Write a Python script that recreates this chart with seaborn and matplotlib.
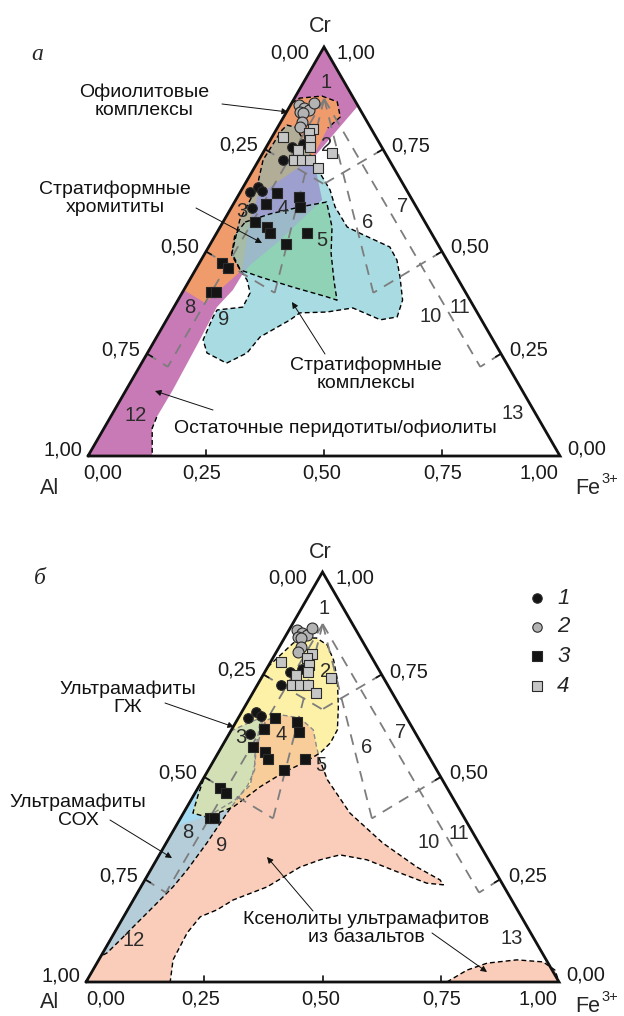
import numpy as np
import pandas as pd
import matplotlib
matplotlib.use("Agg")
import matplotlib.pyplot as plt
import seaborn as sns
from matplotlib.patches import Polygon

sns.set_theme(style="white")
plt.rcParams['font.family'] = ['Liberation Sans', 'DejaVu Sans']

# ---------------- data (fractions: Cr, Fe3+; Al = 1 - Cr - Fe) ----------------
t1_cr = [0.756, 0.763, 0.724, 0.645, 0.658, 0.648, 0.606]
t1_fe = [0.054, 0.075, 0.051, 0.020, 0.031, 0.045, 0.044]
t2_cr = [0.858, 0.851, 0.846, 0.863, 0.841, 0.839, 0.817, 0.804]
t2_fe = [0.018, 0.032, 0.045, 0.047, 0.028, 0.036, 0.045, 0.047]
t3_cr = [0.643, 0.616, 0.633, 0.609, 0.572, 0.560, 0.545, 0.518, 0.545, 0.472, 0.460, 0.401, 0.401]
t3_fe = [0.079, 0.069, 0.130, 0.145, 0.068, 0.099, 0.113, 0.160, 0.191, 0.048, 0.067, 0.061, 0.071]
t4_cr = [0.780, 0.800, 0.790, 0.773, 0.756, 0.748, 0.724, 0.724, 0.724, 0.704, 0.741]
t4_fe = [0.023, 0.077, 0.073, 0.084, 0.092, 0.071, 0.074, 0.091, 0.108, 0.135, 0.147]

# Pavlov classification field numbers (label positions in Cr, Fe)
field_names = ['1', '2', '3', '4', '5', '6', '7', '8', '9', '10', '11', '12', '13']
field_cr = [0.912, 0.758, 0.597, 0.604, 0.528, 0.572, 0.609, 0.364, 0.333, 0.340, 0.362, 0.100, 0.105]
field_fe = [0.048, 0.127, 0.028, 0.111, 0.232, 0.307, 0.361, 0.034, 0.120, 0.555, 0.607, 0.050, 0.847]

# dashed classification grid: segments (Cr0, Fe0) -> (Cr1, Fe1)
grid_cr0 = [0.873, 0.873, 0.873, 0.873, 0.750, 0.750, 0.500, 0.500, 0.250, 0.250]
grid_fe0 = [0.064, 0.064, 0.064, 0.064, 0.250, 0.000, 0.500, 0.000, 0.750, 0.000]
grid_cr1 = [0.218, 0.218, 0.399, 0.399, 0.665, 0.665, 0.399, 0.399, 0.218, 0.218]
grid_fe1 = [0.722, 0.060, 0.405, 0.196, 0.167, 0.167, 0.405, 0.196, 0.722, 0.060]

# ---- panel a fields ----
resid_cr = [1.0, 0.856, 0.729, 0.626, 0.528, 0.467, 0.443, 0.406, 0.364, 0.284, 0.161, 0.095, 0.068, 0.0, 0.0]
resid_fe = [0.0, 0.144, 0.113, 0.183, 0.143, 0.110, 0.105, 0.104, 0.091, 0.095, 0.099, 0.098, 0.102, 0.136, 0.0]
ophio_cr = [0.863, 0.875, 0.880, 0.866, 0.829, 0.802, 0.731, 0.682, 0.638, 0.553, 0.455, 0.374, 0.406]
ophio_fe = [0.000, 0.011, 0.056, 0.095, 0.120, 0.107, 0.111, 0.076, 0.041, 0.063, 0.099, 0.061, 0.000]
strat_cr = [0.795, 0.809, 0.804, 0.768, 0.719, 0.650, 0.609, 0.560, 0.545, 0.511, 0.479, 0.438, 0.381,
            0.340, 0.333, 0.362, 0.352, 0.350, 0.333, 0.291, 0.252, 0.227, 0.252, 0.284, 0.340, 0.357,
            0.364, 0.399, 0.430, 0.455, 0.496, 0.577, 0.658, 0.724]
strat_fe = [0.012, 0.017, 0.037, 0.076, 0.118, 0.188, 0.219, 0.269, 0.303, 0.384, 0.415, 0.442, 0.476,
            0.485, 0.453, 0.380, 0.330, 0.274, 0.262, 0.219, 0.211, 0.180, 0.126, 0.102, 0.095, 0.095,
            0.146, 0.144, 0.122, 0.095, 0.057, 0.033, 0.029, 0.009]
chrom_cr = [0.572, 0.592, 0.609, 0.621, 0.560, 0.496, 0.430, 0.381, 0.389, 0.413, 0.438, 0.455, 0.491, 0.540]
chrom_fe = [0.047, 0.090, 0.145, 0.195, 0.237, 0.267, 0.306, 0.337, 0.312, 0.227, 0.145, 0.095, 0.059, 0.041]

# ---- panel b fields ----
gzh_cr = [0.768, 0.790, 0.827, 0.839, 0.839, 0.822, 0.785, 0.737, 0.671, 0.615, 0.583, 0.559, 0.537,
          0.510, 0.476, 0.451, 0.427, 0.402, 0.412, 0.456, 0.502]
gzh_fe = [0.000, 0.009, 0.025, 0.043, 0.068, 0.099, 0.131, 0.163, 0.198, 0.224, 0.225, 0.216, 0.195,
          0.161, 0.130, 0.114, 0.098, 0.055, 0.020, 0.009, 0.000]
sox_cr = [0.612, 0.634, 0.646, 0.602, 0.554, 0.517, 0.480, 0.456, 0.412, 0.339, 0.273, 0.232, 0.193,
          0.144, 0.102, 0.071, 0.063]
sox_fe = [0.000, 0.030, 0.051, 0.067, 0.080, 0.098, 0.102, 0.098, 0.092, 0.086, 0.077, 0.068, 0.054,
          0.036, 0.021, 0.009, 0.000]
xen_cr = [0.634, 0.651, 0.644, 0.615, 0.573, 0.541, 0.493, 0.412, 0.339, 0.280, 0.249, 0.237, 0.241,
          0.266, 0.298, 0.310, 0.298, 0.280, 0.232, 0.200, 0.176, 0.159, 0.120, 0.054, 0.0, 0.0,
          0.380, 0.400, 0.415, 0.444, 0.480, 0.529, 0.590]
xen_fe = [0.051, 0.090, 0.130, 0.173, 0.201, 0.224, 0.264, 0.352, 0.458, 0.560, 0.624, 0.637, 0.600,
          0.531, 0.445, 0.382, 0.346, 0.312, 0.267, 0.211, 0.189, 0.162, 0.154, 0.157, 0.178, 0.0,
          0.000, 0.041, 0.066, 0.093, 0.107, 0.092, 0.067]
xen2_cr = [0.0, 0.029, 0.046, 0.054, 0.049, 0.029, 0.0]
xen2_fe = [0.763, 0.791, 0.825, 0.884, 0.942, 0.977, 1.0]

SQ3 = np.sqrt(3) / 2


def txy(cr, fe):
    cr = np.asarray(cr, float)
    fe = np.asarray(fe, float)
    return fe + cr / 2, cr * SQ3


fig = plt.figure(figsize=(6.24, 10.16), dpi=100)
ax_a = fig.add_axes([88 / 624, (1016 - 456) / 1016, 472 / 624, 409 / 1016])
ax_b = fig.add_axes([86 / 624, (1016 - 982) / 1016, 473 / 624, 410 / 1016])
for ax in (ax_a, ax_b):
    ax.set_xlim(0, 1)
    ax.set_ylim(0, SQ3)
    ax.axis('off')
ov = fig.add_axes([0, 0, 1, 1])
ov.set_xlim(0, 624)
ov.set_ylim(1016, 0)
ov.axis('off')

DASH = (0, (3.5, 2.2))


def clip_of(ax, cr, fe):
    x, y = txy(cr, fe)
    return Polygon(np.column_stack([x, y]), closed=True, transform=ax.transData)


def fill(ax, cr, fe, color, clip=None, z=1.0):
    x, y = txy(cr, fe)
    p = ax.fill(x, y, color=color, lw=0, zorder=z)[0]
    if clip is not None:
        p.set_clip_path(clip)
    return p


def outline(ax, cr, fe, color='black', z=2.0, close=True, clip=None):
    x, y = txy(cr, fe)
    if close:
        x = np.append(x, x[0])
        y = np.append(y, y[0])
    ln = ax.plot(x, y, color=color, lw=1.0, ls=DASH, zorder=z)[0]
    if clip is not None:
        ln.set_clip_path(clip)
    return ln


def decorate(ax, bottom0_shift):
    # classification grid
    for c0, f0, c1, f1 in zip(grid_cr0, grid_fe0, grid_cr1, grid_fe1):
        x, y = txy([c0, c1], [f0, f1])
        ax.plot(x, y, color='#7d7d7d', lw=1.3, ls=(0, (6, 4.5)), zorder=2.5)
    # triangle frame
    x, y = txy([0, 0, 1, 0], [0, 1, 0, 0])
    ax.plot(x, y, color='#111111', lw=2.0, zorder=3, solid_joinstyle='miter', clip_on=False)
    L = 0.013
    fs = 14.5
    tk = [0.25, 0.5, 0.75]
    for t in tk:
        ax.plot([t, t], [0, L], color='#111', lw=1.2, zorder=3)
        px, py = txy(1 - t, 0)
        ax.plot([px, px + L * SQ3], [py, py - L * 0.5], color='#111', lw=1.2, zorder=3)
        px, py = txy(t, 1 - t)
        ax.plot([px, px - L * SQ3], [py, py - L * 0.5], color='#111', lw=1.2, zorder=3)
    k = 0.72  # px -> pt
    labs = ['0,00', '0,25', '0,50', '0,75', '1,00']
    vals = [0, 0.25, 0.5, 0.75, 1.0]
    # left edge (Al)
    left_off = [(-15, -6), (-7, 4), (-7, 4), (-7, 4), (-6, 6)]
    for lab, t, (dx, dy) in zip(labs, vals, left_off):
        px, py = txy(1 - t, 0)
        ax.annotate(lab, (px, py), xytext=(dx * k, dy * k), textcoords='offset points',
                    ha='right', va='center', fontsize=fs, color='#1a1a1a', annotation_clip=False)
    # right edge (Cr)
    right_off = [(7, 7), (8, 4), (8, 4), (8, 3), (13, -6)]
    for lab, t, (dx, dy) in zip(labs, vals, right_off):
        px, py = txy(t, 1 - t)
        ax.annotate(lab, (px, py), xytext=(dx * k, dy * k), textcoords='offset points',
                    ha='left', va='center', fontsize=fs, color='#1a1a1a', annotation_clip=False)
    # bottom (Fe3+)
    bot_dx = [bottom0_shift, -4, -2, 1, -21]
    for lab, t, dx in zip(labs, vals, bot_dx):
        ax.annotate(lab, (t, 0), xytext=(dx * k, -17 * k), textcoords='offset points',
                    ha='center', va='center', fontsize=fs, color='#1a1a1a', annotation_clip=False)
    # field numbers
    fx, fy = txy(field_cr, field_fe)
    for name, x0, y0 in zip(field_names, fx, fy):
        ax.text(x0, y0, name, ha='center', va='center', fontsize=fs, color='#2b2b2b', zorder=4)


def points(ax):
    specs = [(t1_cr, t1_fe, 'o', '#141414', 48),
             (t2_cr, t2_fe, 'o', '#b3b3b3', 62),
             (t3_cr, t3_fe, 's', '#141414', 50),
             (t4_cr, t4_fe, 's', '#c6c6c6', 52)]
    for cr, fe, m, col, s in specs:
        x, y = txy(cr, fe)
        df = pd.DataFrame({'x': x, 'y': y})
        sns.scatterplot(data=df, x='x', y='y', marker=m, color=col, s=s, edgecolor='#2a2a2a',
                        linewidth=0.8, ax=ax, zorder=6, legend=False)
    ax.set_xlabel('')
    ax.set_ylabel('')
    ax.set_xlim(0, 1)
    ax.set_ylim(0, SQ3)


# ---------------- panel a ----------------
ax = ax_a
cM = clip_of(ax, resid_cr, resid_fe)
cO = clip_of(ax, ophio_cr, ophio_fe)
fill(ax, resid_cr, resid_fe, '#c87ab6', z=1.0)
fill(ax, ophio_cr, ophio_fe, '#ef9b6b', z=1.1)
fill(ax, strat_cr, strat_fe, '#a8dce2', z=1.2)
fill(ax, strat_cr, strat_fe, '#9d9fce', clip=cM, z=1.21)
fill(ax, strat_cr, strat_fe, '#b1ad97', clip=cO, z=1.22)
fill(ax, chrom_cr, chrom_fe, '#8fd2b5', z=1.3)
fill(ax, chrom_cr, chrom_fe, '#9bb9c9', clip=cM, z=1.31)
fill(ax, chrom_cr, chrom_fe, '#a7bca6', clip=cO, z=1.32)
outline(ax, resid_cr[11:14], resid_fe[11:14], close=False)
outline(ax, ophio_cr[0:6], ophio_fe[0:6], close=False)
outline(ax, strat_cr, strat_fe)
outline(ax, chrom_cr, chrom_fe)
decorate(ax, 15)
points(ax)

# ---------------- panel b ----------------
ax = ax_b
cP = clip_of(ax, xen_cr, xen_fe)
cB = clip_of(ax, sox_cr, sox_fe)
cY = clip_of(ax, gzh_cr, gzh_fe)
fill(ax, xen_cr, xen_fe, '#f9cdb9', z=1.0)
fill(ax, xen2_cr, xen2_fe, '#f9cdb9', z=1.0)
outline(ax, xen_cr, xen_fe, z=1.05)
outline(ax, xen2_cr, xen2_fe, z=1.05)
fill(ax, sox_cr, sox_fe, '#a6dcf3', z=1.1)
fill(ax, sox_cr, sox_fe, '#b5cdd9', clip=cP, z=1.11)
outline(ax, sox_cr, sox_fe, z=1.15)
fill(ax, gzh_cr, gzh_fe, '#fdf1a7', z=1.2)
fill(ax, gzh_cr, gzh_fe, '#f8cd99', clip=cP, z=1.21)
fill(ax, gzh_cr, gzh_fe, '#d3dfb4', clip=cB, z=1.22)
outline(ax, xen_cr, xen_fe, color='#8a8a8a', z=1.3, clip=cY)
outline(ax, sox_cr, sox_fe, color='#8a8a8a', z=1.3, clip=cY)
outline(ax, gzh_cr, gzh_fe, z=1.4)
decorate(ax, 20)
points(ax)

# ---------------- texts, labels and arrows (figure pixels) ----------------
FS = 14
serif = ['Liberation Serif', 'DejaVu Serif']
ov.text(37, 55, 'а', fontsize=17, style='italic', family=serif, ha='center', va='center')
ov.text(40, 578, 'б', fontsize=17, style='italic', family=serif, ha='center', va='center')

for ycr, yal, yfe in [(26, 489, 489), (552, 1003, 1007)]:
    ov.text(320, ycr, 'Cr', fontsize=15.5, ha='center', va='center')
    ov.text(50, yal, 'Al', fontsize=15.5, ha='center', va='center')
    ov.text(588, yfe, 'Fe', fontsize=15.5, ha='center', va='center')
    ov.text(601, yfe - 10, '3+', fontsize=10.5, ha='left', va='center')


def label(x, y, s):
    ov.text(x, y, s, fontsize=FS, ha='center', va='center', linespacing=1.1, color='#111')


def arrow(x0, y0, x1, y1):
    ov.annotate('', xy=(x1, y1), xytext=(x0, y0),
                arrowprops=dict(arrowstyle='-|>', lw=0.7, color='#111', mutation_scale=9,
                                shrinkA=0, shrinkB=0))


label(144, 101, 'Офиолитовые\nкомплексы')
arrow(222, 104, 288, 112)
label(115, 198, 'Стратиформные\nхромититы')
arrow(196, 208, 262, 243)
label(366, 374, 'Стратиформные\nкомплексы')
arrow(325, 354, 292, 302)
label(335, 428, 'Остаточные перидотиты/офиолиты')
arrow(213, 410, 155, 391)

label(128, 698, 'Ультрамафиты\nГЖ')
arrow(165, 703, 234, 727)
label(78, 811, 'Ультрамафиты\nСОХ')
arrow(110, 820, 172, 858)
label(366, 928, 'Ксенолиты ультрамафитов\nиз базальтов')
arrow(313, 911, 267, 857)
arrow(432, 933, 487, 972)

# legend
leg_y = [598, 627, 656, 686]
leg_m = ['o', 'o', 's', 's']
leg_c = ['#141414', '#b3b3b3', '#141414', '#c6c6c6']
for i, (yy, m, c) in enumerate(zip(leg_y, leg_m, leg_c)):
    ov.scatter([537], [yy], marker=m, s=46, color=c, edgecolor='#2a2a2a', linewidths=0.8)
    ov.text(557, yy, str(i + 1), fontsize=16, style='italic', ha='left', va='center')

fig.savefig('out.png', dpi=100)
